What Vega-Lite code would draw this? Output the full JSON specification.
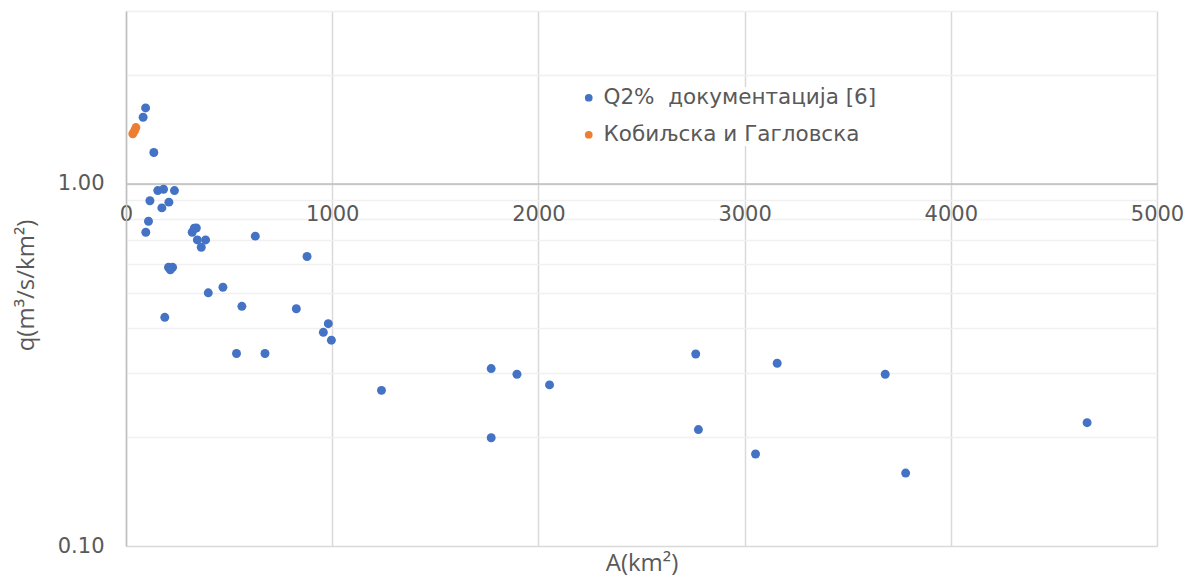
{
  "$schema": "https://vega.github.io/schema/vega-lite/v6.json",
  "autosize": "none",
  "padding": {"left": 126, "top": 11, "right": 34, "bottom": 31},
  "width": 1031,
  "height": 535,
  "background": "white",
  "config": {
    "view": {"stroke": null},
    "axis": {
      "labelFont": "DejaVu Sans",
      "labelFontSize": 21,
      "labelColor": "#595959",
      "titleFont": "Open Sans",
      "titleFontSize": 24,
      "titleFontWeight": "normal",
      "titleColor": "#595959",
      "ticks": false,
      "domainColor": "#bfbfbf",
      "domainWidth": 1.5
    }
  },
  "data": {
    "values": [
      {"A": 95, "q": 1.62, "series": "Q2%\u00a0 документација [6]"},
      {"A": 83, "q": 1.527, "series": "Q2%\u00a0 документација [6]"},
      {"A": 135, "q": 1.22, "series": "Q2%\u00a0 документација [6]"},
      {"A": 154, "q": 0.958, "series": "Q2%\u00a0 документација [6]"},
      {"A": 182, "q": 0.966, "series": "Q2%\u00a0 документација [6]"},
      {"A": 235, "q": 0.958, "series": "Q2%\u00a0 документација [6]"},
      {"A": 116, "q": 0.898, "series": "Q2%\u00a0 документација [6]"},
      {"A": 208, "q": 0.89, "series": "Q2%\u00a0 документација [6]"},
      {"A": 174, "q": 0.858, "series": "Q2%\u00a0 документација [6]"},
      {"A": 109, "q": 0.788, "series": "Q2%\u00a0 документација [6]"},
      {"A": 96, "q": 0.735, "series": "Q2%\u00a0 документација [6]"},
      {"A": 321, "q": 0.735, "series": "Q2%\u00a0 документација [6]"},
      {"A": 331, "q": 0.754, "series": "Q2%\u00a0 документација [6]"},
      {"A": 341, "q": 0.755, "series": "Q2%\u00a0 документација [6]"},
      {"A": 346, "q": 0.7, "series": "Q2%\u00a0 документација [6]"},
      {"A": 386, "q": 0.7, "series": "Q2%\u00a0 документација [6]"},
      {"A": 365, "q": 0.668, "series": "Q2%\u00a0 документација [6]"},
      {"A": 627, "q": 0.717, "series": "Q2%\u00a0 документација [6]"},
      {"A": 878, "q": 0.63, "series": "Q2%\u00a0 документација [6]"},
      {"A": 206, "q": 0.588, "series": "Q2%\u00a0 документација [6]"},
      {"A": 226, "q": 0.588, "series": "Q2%\u00a0 документација [6]"},
      {"A": 215, "q": 0.579, "series": "Q2%\u00a0 документација [6]"},
      {"A": 470, "q": 0.518, "series": "Q2%\u00a0 документација [6]"},
      {"A": 399, "q": 0.5, "series": "Q2%\u00a0 документација [6]"},
      {"A": 562, "q": 0.459, "series": "Q2%\u00a0 документација [6]"},
      {"A": 826, "q": 0.452, "series": "Q2%\u00a0 документација [6]"},
      {"A": 188, "q": 0.428, "series": "Q2%\u00a0 документација [6]"},
      {"A": 981, "q": 0.411, "series": "Q2%\u00a0 документација [6]"},
      {"A": 957, "q": 0.389, "series": "Q2%\u00a0 документација [6]"},
      {"A": 996, "q": 0.37, "series": "Q2%\u00a0 документација [6]"},
      {"A": 536, "q": 0.34, "series": "Q2%\u00a0 документација [6]"},
      {"A": 674, "q": 0.34, "series": "Q2%\u00a0 документација [6]"},
      {"A": 1771, "q": 0.309, "series": "Q2%\u00a0 документација [6]"},
      {"A": 1896, "q": 0.298, "series": "Q2%\u00a0 документација [6]"},
      {"A": 2054, "q": 0.2785, "series": "Q2%\u00a0 документација [6]"},
      {"A": 1239, "q": 0.269, "series": "Q2%\u00a0 документација [6]"},
      {"A": 1771, "q": 0.199, "series": "Q2%\u00a0 документација [6]"},
      {"A": 2763, "q": 0.339, "series": "Q2%\u00a0 документација [6]"},
      {"A": 2776, "q": 0.2096, "series": "Q2%\u00a0 документација [6]"},
      {"A": 3158, "q": 0.3195, "series": "Q2%\u00a0 документација [6]"},
      {"A": 3053, "q": 0.1795, "series": "Q2%\u00a0 документација [6]"},
      {"A": 3682, "q": 0.298, "series": "Q2%\u00a0 документација [6]"},
      {"A": 3781, "q": 0.159, "series": "Q2%\u00a0 документација [6]"},
      {"A": 4661, "q": 0.219, "series": "Q2%\u00a0 документација [6]"},
      {"A": 33, "q": 1.375, "series": "Кобиљска и Гагловска"},
      {"A": 41, "q": 1.4, "series": "Кобиљска и Гагловска"},
      {"A": 48, "q": 1.43, "series": "Кобиљска и Гагловска"}
    ]
  },
  "mark": {"type": "circle", "size": 80, "opacity": 1},
  "encoding": {
    "x": {
      "field": "A",
      "type": "quantitative",
      "scale": {"domain": [0, 5000], "nice": false, "zero": false},
      "axis": {
        "title": "A(km²)",
        "values": [0, 1000, 2000, 3000, 4000, 5000],
        "format": "d",
        "offset": -362.5,
        "labelPadding": 20,
        "labelFlush": false,
        "grid": true,
        "gridColor": "#d9d9d9",
        "gridWidth": 1.5,
        "titleY": 380,
        "titleBaseline": "middle"
      }
    },
    "y": {
      "field": "q",
      "type": "quantitative",
      "scale": {"type": "log", "domain": [0.1, 3], "nice": false},
      "axis": {
        "title": "q(m³/s/km²)",
        "values": [0.1, 0.2, 0.3, 0.4, 0.5, 0.6, 0.7, 0.8, 0.9, 1, 2, 3],
        "labelExpr": "datum.value == 1 || datum.value < 0.15 ? format(datum.value, '.2f') : ''",
        "labelPadding": 22,
        "grid": true,
        "gridWidth": 1.5,
        "gridColor": {
          "condition": {"test": "datum.value == 1 || datum.value < 0.15", "value": "#d9d9d9"},
          "value": "#f0f0f0"
        },
        "titleX": -100,
        "titleY": 274,
        "titleAnchor": "middle",
        "titleBaseline": "middle"
      }
    },
    "color": {
      "field": "series",
      "type": "nominal",
      "scale": {
        "domain": ["Q2%\u00a0 документација [6]", "Кобиљска и Гагловска"],
        "range": ["#4472c4", "#ed7d31"]
      },
      "legend": {
        "title": null,
        "orient": "none",
        "legendX": 452,
        "legendY": 76,
        "padding": 0,
        "symbolType": "circle",
        "symbolSize": 60,
        "labelFont": "DejaVu Sans",
        "labelFontSize": 21.5,
        "labelColor": "#595959",
        "labelLimit": 600,
        "labelOffset": 4,
        "rowPadding": 14,
        "fillColor": "white"
      }
    }
  }
}
